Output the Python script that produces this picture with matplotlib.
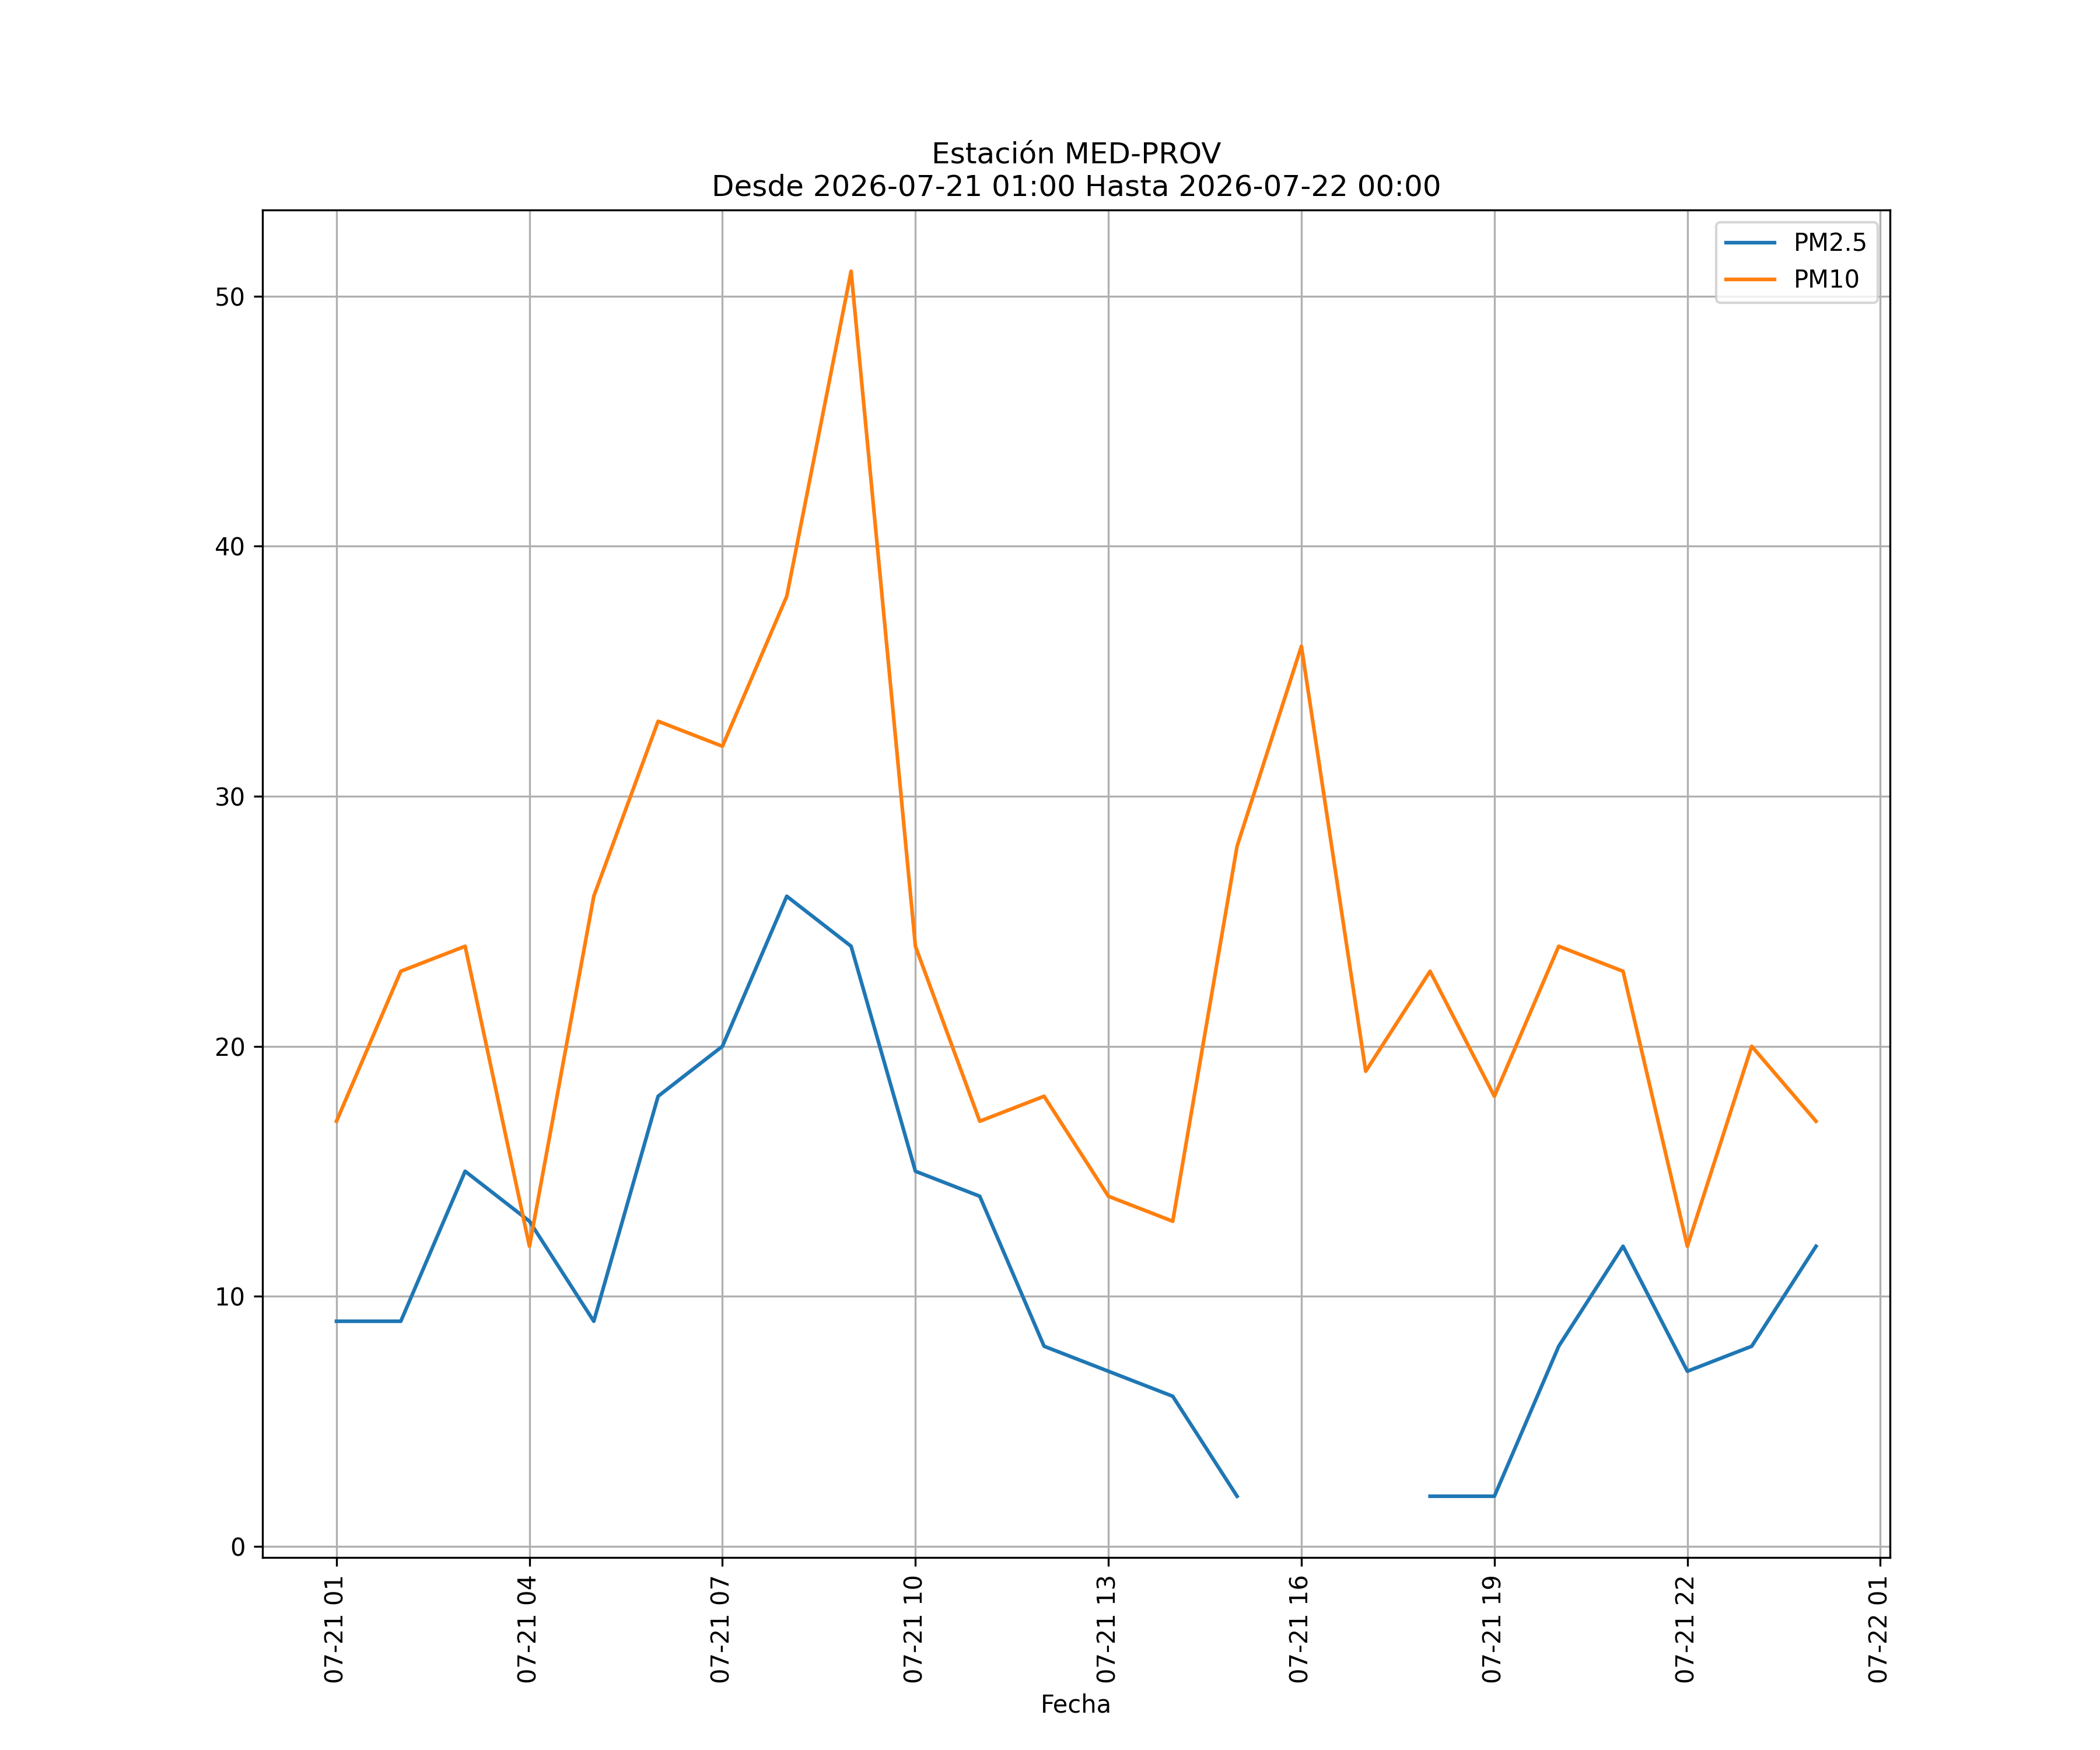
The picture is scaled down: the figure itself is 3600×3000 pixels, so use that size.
import numpy as np
import pandas as pd
import matplotlib
matplotlib.use('Agg')
import matplotlib.pyplot as plt
import matplotlib.dates as mdates

fechas = pd.date_range('2026-07-21 01:00', '2026-07-22 00:00', freq='h')
pm25 = [9, 9, 15, 13, 9, 18, 20, 26, 24, 15, 14, 8, 7, 6, 2,
        np.nan, np.nan, 2, 2, 8, 12, 7, 8, 12]
pm10 = [17, 23, 24, 12, 26, 33, 32, 38, 51, 24, 17, 18, 14, 13, 28,
        36, 19, 23, 18, 24, 23, 12, 20, 17]

fig, ax = plt.subplots(figsize=(12, 10))
ax.plot(fechas, pm25, label='PM2.5')
ax.plot(fechas, pm10, label='PM10')
ax.set_title('Estación MED-PROV\nDesde 2026-07-21 01:00 Hasta 2026-07-22 00:00')
ax.set_xlabel('Fecha')
ax.xaxis.set_major_locator(mdates.HourLocator(byhour=range(1, 24, 3)))
ax.xaxis.set_major_formatter(mdates.DateFormatter('%m-%d %H'))
ax.legend()
ax.grid()
plt.xticks(rotation=90)
plt.savefig('out.png', dpi=300)
